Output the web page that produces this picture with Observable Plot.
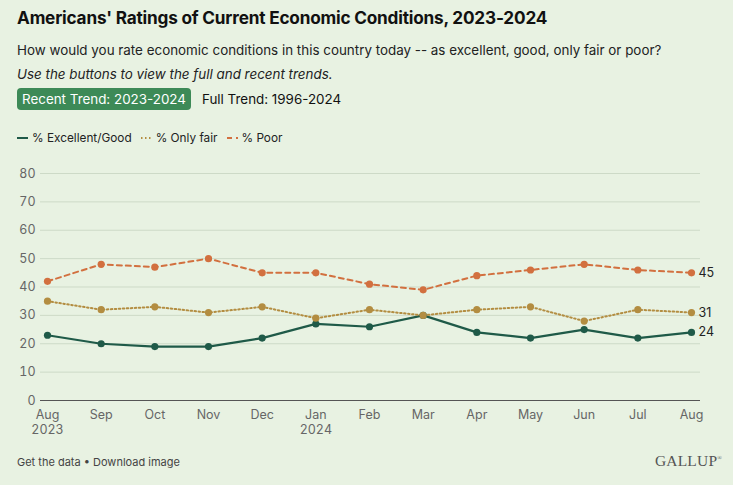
<!DOCTYPE html>
<html>
<head>
<meta charset="utf-8">
<script src="https://cdn.jsdelivr.net/npm/d3@7"></script>
<script src="https://cdn.jsdelivr.net/npm/@observablehq/plot@0.6"></script>
<style>
  html, body { margin: 0; padding: 0; background: #e8f2e2; }
  body { width: 733px; height: 485px; position: relative; overflow: hidden; font-family: Inter, "Noto Sans", sans-serif; color: #111; }
  .abs { position: absolute; white-space: nowrap; }
  #title { left: 17px; top: 7px; font-size: 17.2px; font-weight: 700; letter-spacing: -0.2px; }
  #sub { left: 17px; top: 42px; font-size: 13.4px; color: #222; }
  #note { left: 17px; top: 66px; font-size: 13.4px; font-style: italic; color: #222; }
  #btn { left: 17px; top: 88px; height: 22px; line-height: 22px; padding: 0 5px; background: #3d8a57; color: #fff; border-radius: 4px; font-size: 13.4px; }
  #full { left: 202px; top: 88px; height: 22px; line-height: 22px; font-size: 13.4px; }
  #legend { left: 17px; top: 131px; font-size: 11.8px; color: #222; display: flex; gap: 9px; align-items: center; }
  #legend span.item { display: inline-flex; align-items: center; gap: 4px; }
  #chart { left: 0; top: 150px; }
  #foot { left: 17px; top: 455px; font-size: 11px; color: #444; }
  #logo { right: 11px; top: 452px; font-size: 15.5px; font-family: "Liberation Serif", "DejaVu Serif", serif; color: #555; letter-spacing: 0.2px; }
</style>
</head>
<body>
<div id="title" class="abs">Americans' Ratings of Current Economic Conditions, 2023-2024</div>
<div id="sub" class="abs">How would you rate economic conditions in this country today -- as excellent, good, only fair or poor?</div>
<div id="note" class="abs">Use the buttons to view the full and recent trends.</div>
<div id="btn" class="abs">Recent Trend: 2023-2024</div>
<div id="full" class="abs">Full Trend: 1996-2024</div>
<div id="legend" class="abs"></div>
<div id="chart" class="abs"></div>
<div id="foot" class="abs">Get the data • Download image</div>
<div id="logo" class="abs">GALLUP<sup style="font-size:6px">®</sup></div>
<script>
const months = ["Aug","Sep","Oct","Nov","Dec","Jan","Feb","Mar","Apr","May","Jun","Jul","Aug"];
const years  = ["2023","","","","","2024","","","","","","",""];
const excellentGood = [23, 20, 19, 19, 22, 27, 26, 30, 24, 22, 25, 22, 24];
const onlyFair      = [35, 32, 33, 31, 33, 29, 32, 30, 32, 33, 28, 32, 31];
const poor          = [42, 48, 47, 50, 45, 45, 41, 39, 44, 46, 48, 46, 45];
const seriesNames = ["% Excellent/Good", "% Only fair", "% Poor"];
const seriesColors = ["#1f5a48", "#b38d41", "#d2703f"];
const seriesDash = [null, "1.5,2.5", "5,4"];
const seriesValues = [excellentGood, onlyFair, poor];

const rows = [];
seriesValues.forEach((vals, s) => vals.forEach((v, i) => rows.push({series: seriesNames[s], i, v})));
const last = seriesNames.map((name, s) => ({series: name, i: months.length - 1, v: seriesValues[s][months.length - 1]}));

// legend
const legend = document.getElementById("legend");
seriesNames.forEach((name, s) => {
  const item = document.createElement("span");
  item.className = "item";
  item.innerHTML = `<svg width="11" height="6"><line x1="0" x2="11" y1="3" y2="3" stroke="${seriesColors[s]}" stroke-width="2" ${seriesDash[s] ? `stroke-dasharray="${seriesDash[s]}"` : ""}/></svg><span>${name}</span>`;
  legend.appendChild(item);
});

const lineMarks = seriesNames.map((name, s) =>
  Plot.line(rows.filter(d => d.series === name), {
    x: "i", y: "v", stroke: seriesColors[s], strokeWidth: s === 0 ? 2.2 : 2,
    strokeDasharray: seriesDash[s] || undefined
  })
);
const dotMarks = seriesNames.map((name, s) =>
  Plot.dot(rows.filter(d => d.series === name), {x: "i", y: "v", r: 3.6, fill: seriesColors[s]})
);

const chart = Plot.plot({
  width: 733,
  height: 300,
  marginLeft: 40,
  marginRight: 33,
  marginTop: 23,
  marginBottom: 50,
  style: {background: "transparent", fontSize: "12.5px", fontFamily: "Inter, 'Noto Sans', sans-serif", color: "#5a5a5a"},
  x: {domain: [0, months.length - 1], insetLeft: 7, insetRight: 9},
  y: {domain: [0, 80]},
  marks: [
    Plot.gridY(d3.range(0, 81, 10), {stroke: "#cddac7", strokeOpacity: 1}),
    Plot.axisY(d3.range(0, 81, 10), {tickSize: 0, tickPadding: 5, label: null, fill: "#666", fontSize: 12.5}),
    Plot.axisX(d3.range(months.length), {
      tickSize: 0, tickPadding: 8, label: null, fill: "#666", fontSize: 12.5, lineHeight: 1.2,
      tickFormat: i => years[i] ? months[i] + "\n" + years[i] : months[i]
    }),
    Plot.ruleY([0], {stroke: "#555", strokeWidth: 1.2}),
    ...lineMarks,
    ...dotMarks,
    Plot.text(last, {x: "i", y: "v", text: d => String(d.v), dx: 7, textAnchor: "start", fill: "#222", fontSize: 12.5})
  ]
});
document.getElementById("chart").appendChild(chart);
</script>
</body>
</html>
